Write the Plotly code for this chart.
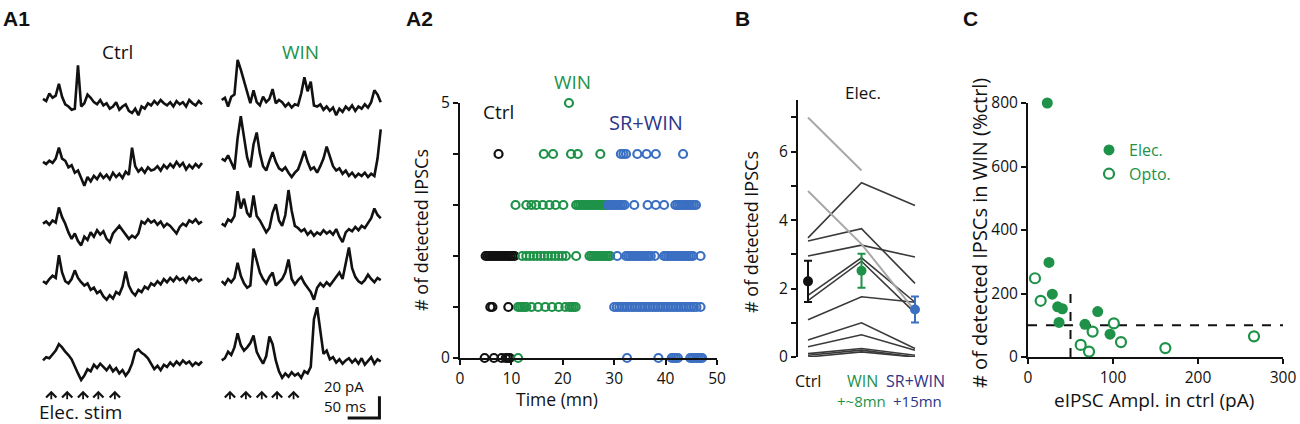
import plotly.graph_objects as go

W, H = 1300, 424
OFF = 0   # page body margin is removed in the written html
FONT = "Open Sans"
BLACK = "#111111"
GREEN = "#1e9248"
BLUE = "#3b6fc2"
NAVY = "#2d3589"
DARK = "#3a3a3a"
LIGHT = "#a8a8a8"

# ---------------- A1 : example sweeps, pA, one value every 5 ms ----------------
trace_t = list(range(0, 255, 5))
ctrl_traces = [
    [1, -1, 6, 2, 4, 15, 3, -4, -6, -9, -8, 32, -6, -3, 5, 2, -2, -4, 0, -5,
     -3, -8, -6, -2, -9, -6, -4, -10, -12, -8, -14, -6, -8, -3, -5, -1, -4, 0, -3, -5,
     -2, -6, -1, -4, -2, -6, 0, -3, -5, -1, -4],
    [2, 0, 3, 1, 5, 15, 5, 3, -3, -1, -8, -6, -13, -20, -12, -16, -11, -14, -9, -13,
     -10, -14, -8, -12, -9, -13, -7, -10, 15, -2, -7, -4, -8, -3, -6, -5, -2, -6, -1, -4,
     0, -3, 2, -2, 1, -5, -1, -4, 0, -3, 1],
    [0, 2, -1, 3, 1, 15, 6, 0, -8, -14, -9, -16, -20, -12, -15, -8, -12, -6, -10, -7,
     -14, -17, -9, -5, -2, -6, -10, -14, -11, -13, -9, 2, 0, 4, 1, 3, -1, 2, -3, 0,
     -2, -6, -9, -3, 0, -2, 3, 1, 4, 0, 2],
    [0, -2, 2, 5, 3, 24, 8, 0, -2, 2, 10, 3, -1, -4, -2, -8, -6, -11, -9, -14,
     -17, -13, -16, -10, -12, -5, 9, -4, -10, -13, -8, -10, -5, -7, -2, -4, 0, -3, 2, -1,
     3, 0, 4, 1, 3, -1, 4, 1, 3, 0, 2],
    [0, 3, 2, 6, 9, 15, 12, 8, 5, 1, -6, -12, -18, -14, -8, -10, -4, -7, -3, -6,
     -9, -5, -10, -7, -12, -9, -14, -10, -3, 8, 10, 7, 5, 2, -3, -8, -5, -9, -4, -6,
     -2, -5, -1, -4, 0, -3, -1, -5, -2, -4, -1],
]
win_traces = [
    [0, 2, -6, 3, 5, 37, 28, 18, 8, -3, 9, -2, -5, 3, -2, 1, 10, -3, 0, -2,
     -6, -3, -7, -4, -5, 6, 21, 8, 17, -5, -6, -4, -9, -6, -10, -7, -14, -8, -11, -6,
     -9, -5, -10, -6, -8, -4, -7, -2, 9, 5, -2],
    [5, 3, 8, 2, -5, 24, 44, 25, 6, -3, 18, 29, 10, -2, -6, 3, 11, 2, -4, -6,
     -3, -8, -12, -8, -5, 3, 12, 2, -5, -3, -8, -2, 5, 16, 8, -2, -6, -4, -9, -6,
     -11, -8, -12, -9, -11, -8, -12, -9, -11, 5, 32],
    [0, -2, 4, 2, 7, 30, 14, 23, 10, 6, 26, 7, 3, -2, -8, -4, 10, 18, 3, -2,
     8, 31, 12, -2, -4, -7, -5, -10, -7, -11, -8, -10, -6, -9, -7, -10, -5, -12, -17, -8,
     -5, -7, -3, -6, -2, -4, 1, 5, 14, 8, 5],
    [0, -3, 2, -1, 3, 17, 5, -2, -6, -4, 30, 20, 8, 2, -2, 4, 8, -4, -1, 2,
     8, 20, 2, -3, 1, 4, -2, -6, -10, -17, -6, -2, -5, -1, -4, 0, 4, 8, 2, 18,
     31, 12, 4, 0, -2, 1, 6, 2, -1, 3, 1],
    [0, 2, 8, 5, 12, 25, 14, 9, 12, 16, 23, 8, 2, -3, 4, 22, 15, 0, -10, -16,
     -12, -15, -11, -14, -12, -16, -10, -12, -6, 38, 49, 28, 6, 9, 1, 3, -2, 1, -3, 0,
     2, -2, 1, -3, 2, -4, 0, 3, -3, 1, -1],
]
row_offset = [0, -59, -114, -167, -240]   # pA, vertical spacing of the sweeps
win_shift = 281                            # ms, start of the WIN column
stim_ms = [13, 38, 63, 87, 113]
bar_pa, bar_ms = 20, 50

# ---------------- A2 : detected IPSCs per sweep vs time (mn) ----------------
a2_ctrl = {
    4: [7.5],
    2: [5.0, 5.4, 5.8, 6.2, 6.6, 7.0, 7.4, 7.8, 8.2, 8.6, 9.0, 9.4, 9.8, 10.2, 10.6],
    1: [5.9, 6.3, 9.4],
    0: [4.8, 6.6, 8.1, 8.9, 9.3, 9.7],
}
a2_win = {
    5: [21.2],
    4: [16.3, 18.1, 21.6, 22.9, 27.3],
    3: [10.8, 12.9, 13.9, 14.8, 16.1, 17.4, 18.6, 20.1, 22.6, 23.0, 23.4, 23.8, 24.2,
        24.6, 25.0, 25.4, 25.8, 26.2, 26.6, 27.0, 27.4, 27.8, 28.2, 28.6],
    2: [12.1, 12.9, 13.6, 14.3, 15.0, 15.7, 16.4, 17.1, 17.8, 18.5, 19.2, 19.9, 20.6,
        22.6, 25.2, 25.6, 26.0, 26.4, 26.8, 27.2, 27.6, 28.0, 28.4, 28.8, 29.2],
    1: [11.3, 11.7, 12.1, 12.5, 12.9, 13.9, 15.2, 16.6, 17.9, 19.2, 20.5, 21.3, 21.7,
        22.1, 22.5],
    0: [11.3],
}
a2_sr = {
    4: [31.3, 31.8, 32.3, 34.5, 36.3, 38.1, 43.4],
    3: [28.8, 29.2, 29.6, 30.0, 30.4, 30.8, 31.2, 31.6, 32.0, 33.9, 36.5, 38.1, 39.7,
        41.9, 42.3, 42.7, 43.1, 43.5, 43.9, 44.3, 44.7, 45.1, 45.5, 45.9],
    2: [30.6, 32.3, 32.7, 33.1, 33.5, 33.9, 34.3, 34.7, 35.1, 35.5, 35.9, 36.3, 36.7,
        37.1, 37.9, 39.7, 40.1, 40.5, 40.9, 41.3, 41.7, 42.1, 42.5, 42.9, 43.3, 43.7,
        44.1, 44.5, 44.9, 45.3, 46.8],
    1: [30.0, 30.5, 31.0, 31.5, 32.0, 32.5, 33.0, 33.5, 34.0, 34.5, 35.0, 35.5, 36.0,
        36.5, 37.0, 37.5, 38.0, 38.5, 39.0, 39.5, 40.0, 40.5, 41.0, 41.5, 42.0, 42.5,
        43.0, 43.5, 44.0, 44.5, 45.0, 45.5, 46.0, 46.8],
    0: [32.5, 38.6, 41.2, 41.6, 42.0, 42.4, 44.8, 45.2, 45.6, 46.0, 46.4, 46.8, 47.1],
}

# ---------------- B : mean # of IPSCs per cell ----------------
b_conditions = [0, 1, 2]
b_cells = [
    [3.48, 5.09, 4.43], [3.39, 3.75, 2.15], [2.95, 3.27, 2.92], [1.8, 2.9, 1.6],
    [1.65, 2.8, 1.29], [1.09, 1.76, 1.6], [0.5, 1.0, 0.25], [0.3, 0.65, 0.2],
    [0.1, 0.25, 0.05], [0.05, 0.2, 0.0], [0.0, 0.15, 0.0],
]
b_cells_gray = [[7.0, 5.45, None], [4.85, 3.3, 1.35]]
b_mean = [2.21, 2.52, 1.39]
b_sem = [0.6, 0.5, 0.38]

# ---------------- C : % change vs eIPSC amplitude ----------------
elec_x = [22.7, 24.7, 28.6, 34.9, 40.4, 36.5, 67.0, 82.0, 96.5]
elec_y = [800, 298, 198, 158, 152, 109, 103, 143, 72]
opto_x = [8.2, 14.9, 62.0, 71.8, 76.0, 101.0, 109.4, 161.6, 265.9]
opto_y = [248, 177, 38, 17, 80, 106, 47, 28, 65]
amp_cut, pct_cut = 50, 100


def px(x):
    return (x - OFF) / W


def py(y):
    return 1 - (y - OFF) / H


def label(text, x, y, size=16, color=BLACK, angle=0, xanchor="center", family=FONT):
    return dict(text=text, x=px(x), y=py(y), xref="paper", yref="paper",
                showarrow=False, textangle=angle, xanchor=xanchor, yanchor="middle",
                font=dict(family=family, size=size, color=color))


fig = go.Figure()

# A1 sweeps
for i, vals in enumerate(ctrl_traces):
    fig.add_trace(go.Scatter(x=trace_t, y=[v + row_offset[i] for v in vals], mode="lines",
                             line=dict(color=BLACK, width=2.6), xaxis="x", yaxis="y",
                             showlegend=False, hoverinfo="skip"))
for i, vals in enumerate(win_traces):
    fig.add_trace(go.Scatter(x=[t + win_shift for t in trace_t],
                             y=[v + row_offset[i] for v in vals], mode="lines",
                             line=dict(color=BLACK, width=2.6), xaxis="x", yaxis="y",
                             showlegend=False, hoverinfo="skip"))

# scale bar
bar_x0 = win_shift + 248
bar_y0 = -293
fig.add_trace(go.Scatter(x=[bar_x0 - bar_ms, bar_x0, bar_x0], y=[bar_y0, bar_y0, bar_y0 + bar_pa],
                         mode="lines", line=dict(color=BLACK, width=3), xaxis="x", yaxis="y",
                         showlegend=False, hoverinfo="skip"))

# A2 raster
for rows, color in [(a2_ctrl, BLACK), (a2_win, GREEN), (a2_sr, BLUE)]:
    xs, ys = [], []
    for n, times in rows.items():
        xs += times
        ys += [n] * len(times)
    fig.add_trace(go.Scatter(x=xs, y=ys, mode="markers", xaxis="x2", yaxis="y2",
                             marker=dict(symbol="circle-open", size=8, color=color,
                                         line=dict(width=2.2, color=color)),
                             cliponaxis=False, showlegend=False))

# B
for vals in b_cells:
    fig.add_trace(go.Scatter(x=b_conditions, y=vals, mode="lines", xaxis="x3", yaxis="y3",
                             line=dict(color=DARK, width=1.6), showlegend=False))
for vals in b_cells_gray:
    fig.add_trace(go.Scatter(x=b_conditions, y=vals, mode="lines", xaxis="x3", yaxis="y3",
                             line=dict(color=LIGHT, width=2), showlegend=False,
                             connectgaps=False))
for i, color in enumerate([BLACK, GREEN, BLUE]):
    fig.add_trace(go.Scatter(x=[b_conditions[i]], y=[b_mean[i]], mode="markers",
                             xaxis="x3", yaxis="y3",
                             marker=dict(size=10, color=color),
                             error_y=dict(type="data", array=[b_sem[i]], color=color,
                                          thickness=2, width=4),
                             showlegend=False))

# C
fig.add_trace(go.Scatter(x=[0, 300], y=[pct_cut, pct_cut], mode="lines", xaxis="x4", yaxis="y4",
                         line=dict(color=BLACK, width=2, dash="dash"), showlegend=False))
fig.add_trace(go.Scatter(x=[amp_cut, amp_cut], y=[0, 2 * pct_cut], mode="lines", xaxis="x4",
                         yaxis="y4", line=dict(color=BLACK, width=2, dash="dash"),
                         showlegend=False))
fig.add_trace(go.Scatter(x=elec_x, y=elec_y, mode="markers", name="Elec.", xaxis="x4", yaxis="y4",
                         marker=dict(size=11, color=GREEN), cliponaxis=False))
fig.add_trace(go.Scatter(x=opto_x, y=opto_y, mode="markers", name="Opto.", xaxis="x4", yaxis="y4",
                         marker=dict(symbol="circle-open", size=10, color=GREEN,
                                     line=dict(width=2.2, color=GREEN)),
                         cliponaxis=False))

axis_style = dict(showline=True, linecolor=BLACK, linewidth=2, ticks="outside", ticklen=5,
                  tickwidth=2, tickcolor=BLACK, showgrid=False, zeroline=False,
                  automargin=False,
                  tickfont=dict(family=FONT, size=15.5, color=BLACK))

annotations = [
    label("<b>A1</b>", 16, 19, size=21, family="Liberation Sans"),
    label("<b>A2</b>", 419, 19, size=21, family="Liberation Sans"),
    label("<b>B</b>", 742, 19, size=21, family="Liberation Sans"),
    label("<b>C</b>", 970, 19, size=21, family="Liberation Sans"),
    label("Ctrl", 117, 52, size=19),
    label("WIN", 300, 52, size=19, color=GREEN),
    label("Elec. stim", 80, 412, size=19),
    label("20 pA", 366, 386, size=15, xanchor="right"),
    label("50 ms", 368, 406, size=15, xanchor="right"),
    # A2
    label("WIN", 572, 82, size=19, color=GREEN),
    label("Ctrl", 498, 112, size=19),
    label("SR+WIN", 646, 122, size=20, color=NAVY),
    label("# of detected IPSCs", 421, 230, size=18, angle=-90),
    label("Time (mn)", 557, 399, size=17.5),
    # B
    label("Elec.", 863, 93, size=17),
    label("# of detected IPSCs", 751, 232, size=18, angle=-90),
    label("Ctrl", 808, 381, size=16),
    label("WIN", 862, 381, size=16, color=GREEN),
    label("+~8mn", 861, 401, size=15, color=GREEN),
    label("SR+WIN", 915, 381, size=16, color=NAVY),
    label("+15mn", 917, 401, size=15, color=NAVY),
    # C
    label("# of detected IPSCs in WIN (%ctrl)", 979, 233, size=20, angle=-90),
    label("eIPSC Ampl. in ctrl (pA)", 1154, 400, size=19),
]
for t in stim_ms:
    for shift in (0, win_shift):
        annotations.append(dict(x=t + shift, y=-268, xref="x", yref="y", ax=0, ay=10,
                                showarrow=True, arrowhead=4, arrowsize=1.1, arrowwidth=1.8,
                                arrowcolor=BLACK, text=""))

# A1 axis: page x = 43 + 0.636 t, page y = 100 - 1.085 pA
a1_x0, a1_x1 = (OFF - 43) / 0.636, (403 - 43) / 0.636
a1_y0, a1_y1 = (100 - (H + OFF)) / 1.085, (100 - OFF) / 1.085

fig.update_layout(
    template="none",
    width=W, height=H, margin=dict(l=0, r=0, t=0, b=0, pad=0), autosize=False,
    paper_bgcolor="white", plot_bgcolor="white",
    font=dict(family=FONT, color=BLACK),
    xaxis=dict(domain=[0, px(403)], range=[a1_x0, a1_x1], visible=False, automargin=False),
    yaxis=dict(domain=[0, 1], range=[a1_y0, a1_y1], visible=False, automargin=False),
    xaxis2=dict(axis_style, domain=[px(460), px(717)], range=[0, 50], anchor="y2",
                tickvals=[0, 10, 20, 30, 40, 50]),
    yaxis2=dict(axis_style, domain=[py(358), py(103)], range=[0, 5], anchor="x2",
                tickvals=[0, 1, 2, 3, 4, 5], ticktext=["0", "", "", "", "", "5"]),
    xaxis3=dict(domain=[px(798), px(935)], range=[-0.187, 2.374], visible=False, anchor="y3",
                automargin=False),
    yaxis3=dict(axis_style, domain=[py(357), py(100)], range=[0, 7.51], anchor="x3",
                tickvals=[0, 1, 2, 3, 4, 5, 6, 7], ticktext=["0", "", "2", "", "4", "", "6", ""]),
    xaxis4=dict(axis_style, domain=[px(1028), px(1283)], range=[0, 300], anchor="y4",
                tickvals=[0, 100, 200, 300]),
    yaxis4=dict(axis_style, domain=[py(357), py(103)], range=[0, 800], anchor="x4",
                tickvals=[0, 200, 400, 600, 800]),
    showlegend=True,
    legend=dict(x=px(1089), y=py(133), xanchor="left", yanchor="top", bgcolor="rgba(0,0,0,0)",
                font=dict(family=FONT, size=16, color=GREEN), itemwidth=30,
                tracegroupgap=0, borderwidth=0),
    annotations=annotations,
)

fig.write_html("out.html", config={"displayModeBar": False},
               post_script="document.body.style.margin = '0px';")
